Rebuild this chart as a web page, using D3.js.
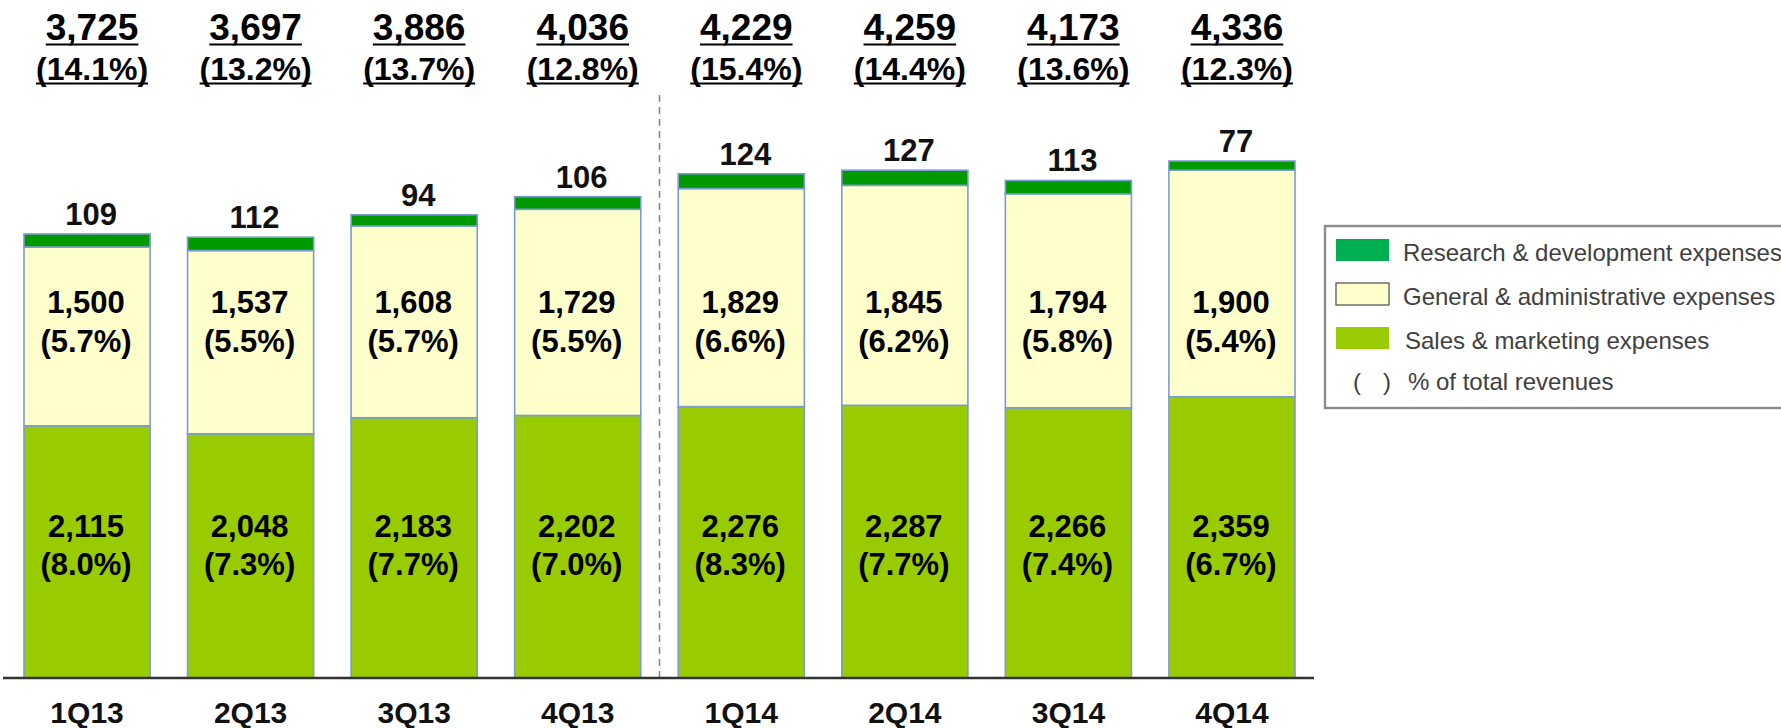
<!DOCTYPE html>
<html>
<head>
<meta charset="utf-8">
<script src="https://cdn.jsdelivr.net/npm/d3@7/dist/d3.min.js"></script>
<style>
  html, body { margin: 0; padding: 0; background: #fff; }
  svg { display: block; font-family: "Liberation Sans", Arial, sans-serif; }
</style>
</head>
<body>
<svg id="chart" width="1781" height="728"></svg>
<script>
const categories = ["1Q13", "2Q13", "3Q13", "4Q13", "1Q14", "2Q14", "3Q14", "4Q14"];
const sales      = [2115, 2048, 2183, 2202, 2276, 2287, 2266, 2359];
const salesPct   = ["8.0%", "7.3%", "7.7%", "7.0%", "8.3%", "7.7%", "7.4%", "6.7%"];
const ga         = [1500, 1537, 1608, 1729, 1829, 1845, 1794, 1900];
const gaPct      = ["5.7%", "5.5%", "5.7%", "5.5%", "6.6%", "6.2%", "5.8%", "5.4%"];
const rd         = [109, 112, 94, 106, 124, 127, 113, 77];
const totals     = [3725, 3697, 3886, 4036, 4229, 4259, 4173, 4336];
const totalPct   = ["14.1%", "13.2%", "13.7%", "12.8%", "15.4%", "14.4%", "13.6%", "12.3%"];
const legendLabels = ["Research & development expenses", "General & administrative expenses", "Sales & marketing expenses"];

const fmt = d3.format(",");
const rows = categories.map((c, i) => ({cat: c, sales: sales[i], ga: ga[i], rd: rd[i]}));
const keys = ["sales", "ga", "rd"];
const colors = {sales: "#99CC00", ga: "#FFFFCC", rd: "#009900"};

const svg = d3.select("#chart");
const baseY = 678;
const x = d3.scaleBand().domain(categories).range([24, 1295]).paddingInner(0.229).paddingOuter(0);
const y = d3.scaleLinear().domain([0, 5000]).range([baseY, baseY - 5000 * 0.11923]);

const stacked = d3.stack().keys(keys)(rows);

// bars
svg.append("g").selectAll("g").data(stacked).join("g")
  .attr("fill", d => colors[d.key])
  .selectAll("rect").data(d => d).join("rect")
  .attr("x", d => x(d.data.cat))
  .attr("width", x.bandwidth())
  .attr("y", d => y(d[1]))
  .attr("height", d => y(d[0]) - y(d[1]))
  .attr("stroke", "#7B9CD0")
  .attr("stroke-width", 1.6);

// separator dashed line between 4Q13 and 1Q14
const sepX = (x("4Q13") + x.bandwidth() + x("1Q14")) / 2;
svg.append("line")
  .attr("x1", sepX).attr("x2", sepX)
  .attr("y1", 95).attr("y2", baseY)
  .attr("stroke", "#8a8a8a").attr("stroke-width", 1.6)
  .attr("stroke-dasharray", "7,5");

// x axis baseline
svg.append("line")
  .attr("x1", 3).attr("x2", 1314)
  .attr("y1", baseY).attr("y2", baseY)
  .attr("stroke", "#333").attr("stroke-width", 2.4);

// x axis labels
const xAxis = d3.axisBottom(x).tickSize(0).tickPadding(0);
const gx = svg.append("g").attr("transform", `translate(0,${baseY})`).call(xAxis);
gx.select(".domain").remove();
gx.selectAll("text")
  .attr("dy", null).attr("y", 45)
  .attr("font-family", "Liberation Sans, Arial, sans-serif")
  .attr("font-size", 30).attr("font-weight", "bold").attr("fill", "#111");

const cx = c => x(c) + x.bandwidth() / 2;

// R&D labels above bars
svg.append("g").selectAll("text").data(rows).join("text")
  .attr("x", d => cx(d.cat) + 4)
  .attr("y", d => y(d.sales + d.ga + d.rd) - 9)
  .attr("text-anchor", "middle")
  .attr("font-size", 31).attr("font-weight", "bold").attr("fill", "#111")
  .text(d => fmt(d.rd));

// G&A labels
const gaG = svg.append("g");
gaG.selectAll("text.v").data(rows).join("text").attr("class", "v")
  .attr("x", d => cx(d.cat) - 1).attr("y", 313)
  .attr("text-anchor", "middle").attr("font-size", 31).attr("font-weight", "bold").attr("fill", "#000")
  .text(d => fmt(d.ga));
gaG.selectAll("text.p").data(rows).join("text").attr("class", "p")
  .attr("x", d => cx(d.cat) - 1).attr("y", 352)
  .attr("text-anchor", "middle").attr("font-size", 31).attr("font-weight", "bold").attr("fill", "#000")
  .text((d, i) => `(${gaPct[i]})`);

// Sales labels
const sG = svg.append("g");
sG.selectAll("text.v").data(rows).join("text").attr("class", "v")
  .attr("x", d => cx(d.cat) - 1).attr("y", 537)
  .attr("text-anchor", "middle").attr("font-size", 31).attr("font-weight", "bold").attr("fill", "#000")
  .text(d => fmt(d.sales));
sG.selectAll("text.p").data(rows).join("text").attr("class", "p")
  .attr("x", d => cx(d.cat) - 1).attr("y", 575)
  .attr("text-anchor", "middle").attr("font-size", 31).attr("font-weight", "bold").attr("fill", "#000")
  .text((d, i) => `(${salesPct[i]})`);

// Top total labels, underlined
const topG = svg.append("g");
categories.forEach((c, i) => {
  const tx = cx(c) + 5;
  const t1 = topG.append("text").attr("x", tx).attr("y", 40)
    .attr("text-anchor", "middle").attr("font-size", 37).attr("font-weight", "bold").attr("fill", "#000")
    .text(fmt(totals[i]));
  const w1 = t1.node().getComputedTextLength();
  topG.append("line").attr("x1", tx - w1 / 2).attr("x2", tx + w1 / 2)
    .attr("y1", 44.5).attr("y2", 44.5).attr("stroke", "#000").attr("stroke-width", 2.2);
  const t2 = topG.append("text").attr("x", tx).attr("y", 80)
    .attr("text-anchor", "middle").attr("font-size", 32).attr("font-weight", "bold").attr("fill", "#000")
    .text(`(${totalPct[i]})`);
  const w2 = t2.node().getComputedTextLength();
  topG.append("line").attr("x1", tx - w2 / 2).attr("x2", tx + w2 / 2)
    .attr("y1", 83.5).attr("y2", 83.5).attr("stroke", "#000").attr("stroke-width", 2.2);
});

// Legend
const lg = svg.append("g");
lg.append("rect").attr("x", 1325).attr("y", 226).attr("width", 470).attr("height", 182)
  .attr("fill", "#fff").attr("stroke", "#8c8c8c").attr("stroke-width", 2.4);
const swatchColors = ["#00B050", "#FFFFCC", "#99CC00"];
const swatchStroke = ["none", "#595959", "none"];
legendLabels.forEach((lab, i) => {
  const sy = 239 + i * 44;
  lg.append("rect").attr("x", 1336).attr("y", sy).attr("width", 53).attr("height", 22)
    .attr("fill", swatchColors[i]).attr("stroke", swatchStroke[i]).attr("stroke-width", 1.3);
  lg.append("text").attr("x", i === 2 ? 1405 : 1403).attr("y", sy + 22)
    .attr("font-size", 24).attr("fill", "#404040").text(lab);
});
lg.append("text").attr("x", 1353).attr("y", 390).attr("font-size", 24).attr("fill", "#404040").text("(");
lg.append("text").attr("x", 1383).attr("y", 390).attr("font-size", 24).attr("fill", "#404040").text(")");
lg.append("text").attr("x", 1408).attr("y", 390).attr("font-size", 24).attr("fill", "#404040").text("% of total revenues");
</script>
</body>
</html>
